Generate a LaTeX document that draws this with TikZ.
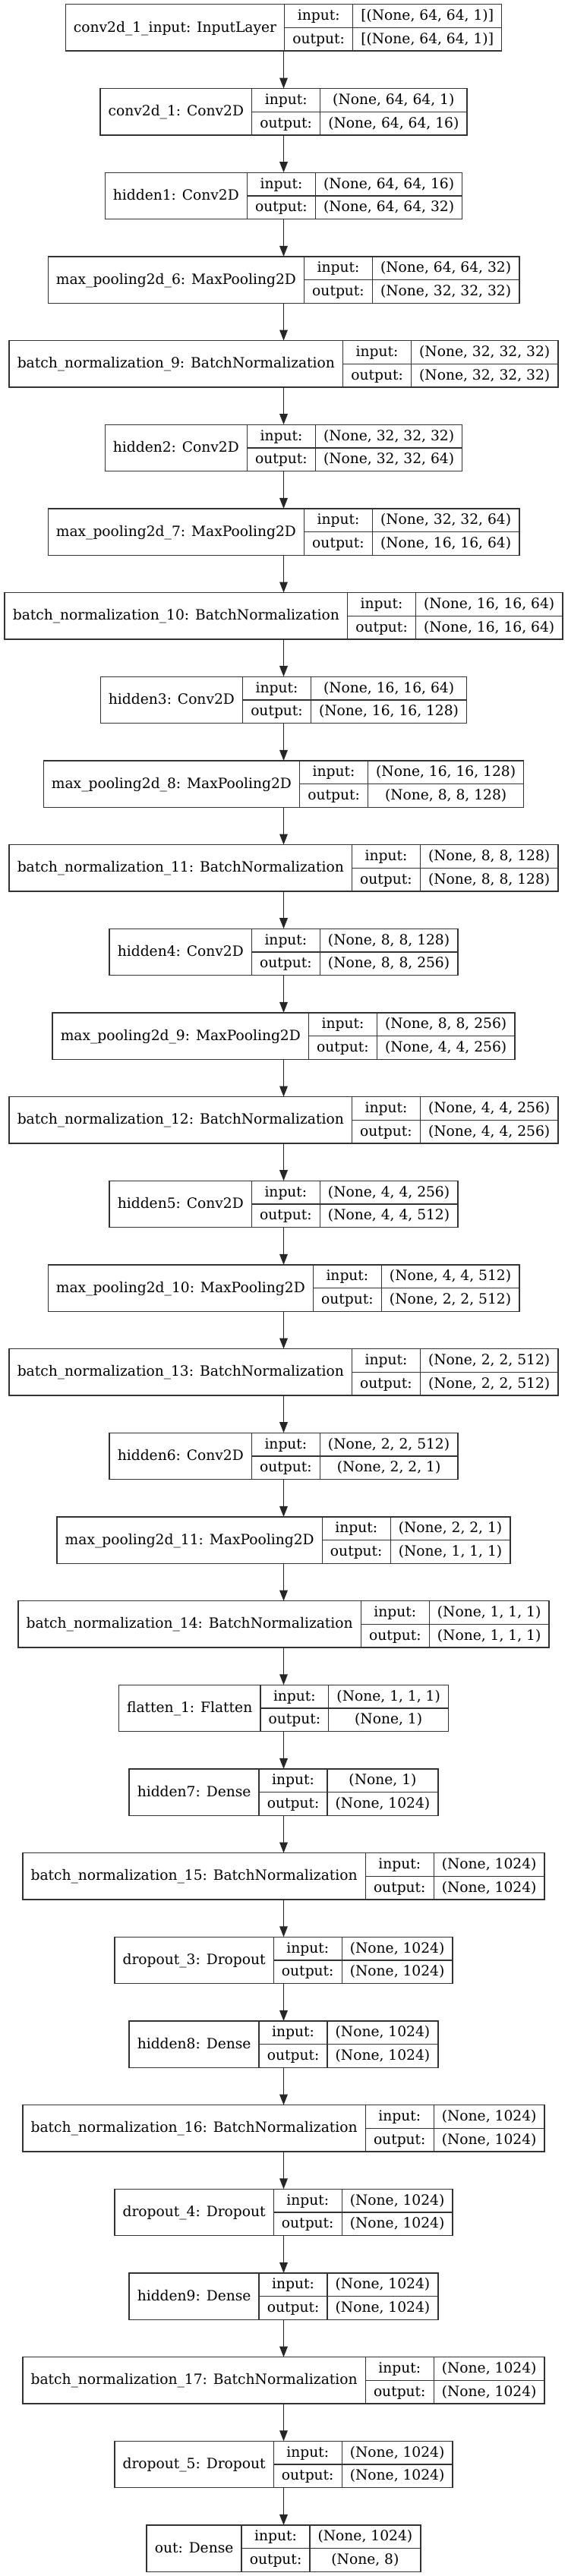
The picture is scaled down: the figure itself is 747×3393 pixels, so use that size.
\documentclass[tikz,border=0pt]{standalone}
\usepackage{fontspec}
\setmainfont{DejaVu Serif}
\usetikzlibrary{arrows.meta,positioning}

\font\measfont="DejaVu Serif" at 14pt
\newlength\labw \newlength\iow \newlength\shpw \newlength\shpwb
\newcommand\cellfont{\fontsize{14pt}{16pt}\selectfont}
\newcommand\layer[5]{%
  \settowidth\labw{\measfont #3}\addtolength\labw{16pt}%
  \settowidth\iow{\measfont output:}\addtolength\iow{16pt}%
  \settowidth\shpw{\measfont #4}\settowidth\shpwb{\measfont #5}%
  \ifdim\shpwb>\shpw \setlength\shpw{\shpwb}\fi
  \addtolength\shpw{16pt}%
  \node[box, minimum width=\labw+\iow+\shpw] (#1) at (373.5,{-36.5-110.67*#2}) {};
  \node[cell, minimum width=\labw, minimum height=46pt, right=0pt of #1.west] (#1-l) {#3};
  \node[cell, minimum width=\iow, below right=0pt of #1-l.north east] (#1-i) {input:};
  \node[cell, minimum width=\iow, below=0pt of #1-i] (#1-o) {output:};
  \node[cell, minimum width=\shpw, right=0pt of #1-i] (#1-a) {#4};
  \node[cell, minimum width=\shpw, below=0pt of #1-a] (#1-b) {#5};
}

\begin{document}
\begin{tikzpicture}[x=0.75pt, y=0.75pt, font=\cellfont,
  box/.style={minimum height=46pt, inner sep=0pt, outer sep=0pt},
  cell/.style={draw=black!80, line width=1pt, minimum height=23pt, inner sep=0pt, outer sep=0pt,
    text height=11pt, text depth=2.5pt},
  link/.style={-{Triangle[length=10.5pt, width=8pt]}, draw=black!85, fill=black!85, line width=1pt}]
  \useasboundingbox (0,0) rectangle (747,-3393);
  \layer{inp}{0}{conv2d\_1\_input: InputLayer}{[(None, 64, 64, 1)]}{[(None, 64, 64, 1)]}
  \layer{conv1}{1}{conv2d\_1: Conv2D}{(None, 64, 64, 1)}{(None, 64, 64, 16)}
  \layer{hid1}{2}{hidden1: Conv2D}{(None, 64, 64, 16)}{(None, 64, 64, 32)}
  \layer{pool6}{3}{max\_pooling2d\_6: MaxPooling2D}{(None, 64, 64, 32)}{(None, 32, 32, 32)}
  \layer{norm9}{4}{batch\_normalization\_9: BatchNormalization}{(None, 32, 32, 32)}{(None, 32, 32, 32)}
  \layer{hid2}{5}{hidden2: Conv2D}{(None, 32, 32, 32)}{(None, 32, 32, 64)}
  \layer{pool7}{6}{max\_pooling2d\_7: MaxPooling2D}{(None, 32, 32, 64)}{(None, 16, 16, 64)}
  \layer{norm10}{7}{batch\_normalization\_10: BatchNormalization}{(None, 16, 16, 64)}{(None, 16, 16, 64)}
  \layer{hid3}{8}{hidden3: Conv2D}{(None, 16, 16, 64)}{(None, 16, 16, 128)}
  \layer{pool8}{9}{max\_pooling2d\_8: MaxPooling2D}{(None, 16, 16, 128)}{(None, 8, 8, 128)}
  \layer{norm11}{10}{batch\_normalization\_11: BatchNormalization}{(None, 8, 8, 128)}{(None, 8, 8, 128)}
  \layer{hid4}{11}{hidden4: Conv2D}{(None, 8, 8, 128)}{(None, 8, 8, 256)}
  \layer{pool9}{12}{max\_pooling2d\_9: MaxPooling2D}{(None, 8, 8, 256)}{(None, 4, 4, 256)}
  \layer{norm12}{13}{batch\_normalization\_12: BatchNormalization}{(None, 4, 4, 256)}{(None, 4, 4, 256)}
  \layer{hid5}{14}{hidden5: Conv2D}{(None, 4, 4, 256)}{(None, 4, 4, 512)}
  \layer{pool10}{15}{max\_pooling2d\_10: MaxPooling2D}{(None, 4, 4, 512)}{(None, 2, 2, 512)}
  \layer{norm13}{16}{batch\_normalization\_13: BatchNormalization}{(None, 2, 2, 512)}{(None, 2, 2, 512)}
  \layer{hid6}{17}{hidden6: Conv2D}{(None, 2, 2, 512)}{(None, 2, 2, 1)}
  \layer{pool11}{18}{max\_pooling2d\_11: MaxPooling2D}{(None, 2, 2, 1)}{(None, 1, 1, 1)}
  \layer{norm14}{19}{batch\_normalization\_14: BatchNormalization}{(None, 1, 1, 1)}{(None, 1, 1, 1)}
  \layer{flat1}{20}{flatten\_1: Flatten}{(None, 1, 1, 1)}{(None, 1)}
  \layer{hid7}{21}{hidden7: Dense}{(None, 1)}{(None, 1024)}
  \layer{norm15}{22}{batch\_normalization\_15: BatchNormalization}{(None, 1024)}{(None, 1024)}
  \layer{drop3}{23}{dropout\_3: Dropout}{(None, 1024)}{(None, 1024)}
  \layer{hid8}{24}{hidden8: Dense}{(None, 1024)}{(None, 1024)}
  \layer{norm16}{25}{batch\_normalization\_16: BatchNormalization}{(None, 1024)}{(None, 1024)}
  \layer{drop4}{26}{dropout\_4: Dropout}{(None, 1024)}{(None, 1024)}
  \layer{hid9}{27}{hidden9: Dense}{(None, 1024)}{(None, 1024)}
  \layer{norm17}{28}{batch\_normalization\_17: BatchNormalization}{(None, 1024)}{(None, 1024)}
  \layer{drop5}{29}{dropout\_5: Dropout}{(None, 1024)}{(None, 1024)}
  \layer{out}{30}{out: Dense}{(None, 1024)}{(None, 8)}
  \foreach \a/\b in {inp/conv1, conv1/hid1, hid1/pool6, pool6/norm9, norm9/hid2, hid2/pool7,
    pool7/norm10, norm10/hid3, hid3/pool8, pool8/norm11, norm11/hid4, hid4/pool9, pool9/norm12,
    norm12/hid5, hid5/pool10, pool10/norm13, norm13/hid6, hid6/pool11, pool11/norm14,
    norm14/flat1, flat1/hid7, hid7/norm15, norm15/drop3, drop3/hid8, hid8/norm16, norm16/drop4,
    drop4/hid9, hid9/norm17, norm17/drop5, drop5/out}
    \draw[link] (\a.south) -- (\b.north);
\end{tikzpicture}
\end{document}
